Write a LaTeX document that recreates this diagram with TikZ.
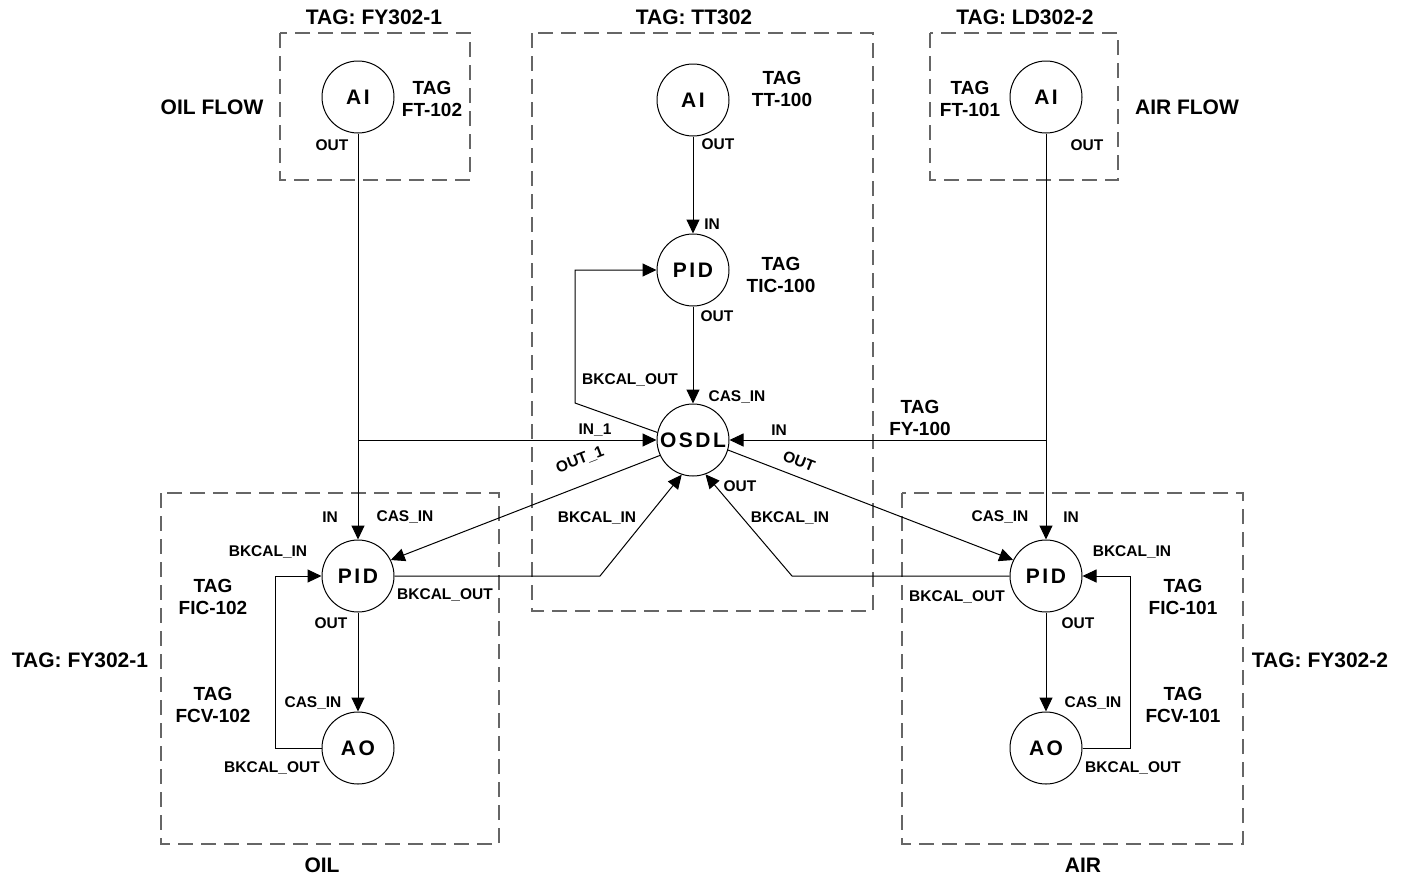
\documentclass[tikz,border=0pt]{standalone}
\usepackage{fontspec}
\setmainfont{Liberation Sans}
\usetikzlibrary{arrows.meta}
\begin{document}
\begin{tikzpicture}[x=0.5pt,y=-0.5pt,
  blk/.style={circle,draw,line width=0.5pt,minimum size=36pt,inner sep=0pt,
    font=\fontsize{10.5}{12}\selectfont\bfseries\addfontfeature{LetterSpace=12}},
  hdr/.style={font=\fontsize{10.5}{12}\selectfont\bfseries,inner sep=0pt},
  tag/.style={font=\fontsize{9.5}{11}\selectfont\bfseries,align=center,inner sep=0pt},
  lbl/.style={font=\fontsize{7.75}{9}\selectfont\bfseries,inner sep=0pt},
  grp/.style={draw=black!60,dash pattern=on 7.5pt off 4pt,line width=0.6pt},
  wire/.style={line width=0.5pt},
  arr/.style={wire,-{Triangle[length=7pt,width=6.5pt]}}]
\useasboundingbox (0,0) rectangle (1414,879);

% group boxes
\draw[grp] (280,33) rectangle (470,180);
\draw[grp] (532,33) rectangle (873,611);
\draw[grp] (930,33) rectangle (1118,180);
\draw[grp] (161,493) rectangle (499,844);
\draw[grp] (902,493) rectangle (1243,844);

% group headers
\node[hdr] (hFY1) at (374,17) {TAG: FY302-1};
\node[hdr] (hTT) at (694,17) {TAG: TT302};
\node[hdr] (hLD) at (1025,17) {TAG: LD302-2};
\node[hdr] (hOILF) at (212,107) {OIL FLOW};
\node[hdr] (hAIRF) at (1187,107) {AIR FLOW};
\node[hdr] (hFYL) at (80,660) {TAG: FY302-1};
\node[hdr] (hFYR) at (1320,660) {TAG: FY302-2};
\node[hdr] (hOIL) at (322,865) {OIL};
\node[hdr] (hAIR) at (1083,865) {AIR};

% blocks
\node[blk] (oilAI) at (358,97) {AI};
\node[blk] (ttAI) at (693,100) {AI};
\node[blk] (ttPID) at (693,270) {PID};
\node[blk] (osdl) at (693,440) {OSDL};
\node[blk] (airAI) at (1046,97) {AI};
\node[blk] (oilPID) at (358,576) {PID};
\node[blk] (oilAO) at (358,748) {AO};
\node[blk] (airPID) at (1046,576) {PID};
\node[blk] (airAO) at (1046,748) {AO};

% tag labels
\node[tag] (tFT102) at (432,99) {TAG\\FT-102};
\node[tag] (tTT100) at (782,89) {TAG\\TT-100};
\node[tag] (tTIC100) at (781,275) {TAG\\TIC-100};
\node[tag] (tFT101) at (970,99) {TAG\\FT-101};
\node[tag] (tFY100) at (920,418) {TAG\\FY-100};
\node[tag] (tFIC102) at (213,597) {TAG\\FIC-102};
\node[tag] (tFCV102) at (213,705) {TAG\\FCV-102};
\node[tag] (tFIC101) at (1183,597) {TAG\\FIC-101};
\node[tag] (tFCV101) at (1183,705) {TAG\\FCV-101};

% coordinates
\coordinate (j1) at (358,440);
\coordinate (j2) at (1046,440);
\coordinate (c1) at (575,403);
\coordinate (c2) at (575,270);
\coordinate (c3) at (600,576);
\coordinate (c4) at (792,576);
\coordinate (c5) at (275,748);
\coordinate (c6) at (275,576);
\coordinate (c7) at (1130,748);
\coordinate (c8) at (1130,576);

% connectors
\draw[arr] (oilAI.south) -- (oilPID.north);
\draw[arr] (j1) -- (osdl.west);
\draw[arr] (ttAI.south) -- (ttPID.north);
\draw[arr] (ttPID.south) -- (osdl.north);
\draw[arr] (osdl.168) -- (c1) -- (c2) -- (ttPID.west);
\draw[arr] (airAI.south) -- (airPID.north);
\draw[arr] (j2) -- (osdl.east);
\draw[arr] (osdl.205) -- (oilPID.26);
\draw[arr] (osdl.344) -- (airPID.154);
\draw[arr] (oilPID.east) -- (c3) -- (osdl.252);
\draw[arr] (airPID.west) -- (c4) -- (osdl.290);
\draw[arr] (oilPID.south) -- (oilAO.north);
\draw[arr] (oilAO.west) -- (c5) -- (c6) -- (oilPID.west);
\draw[arr] (airPID.south) -- (airAO.north);
\draw[arr] (airAO.east) -- (c7) -- (c8) -- (airPID.east);

% port labels
\node[lbl] (l1) at (332,145) {OUT};
\node[lbl] (l2) at (718,144) {OUT};
\node[lbl] (l3) at (1087,145) {OUT};
\node[lbl] (l4) at (712,224) {IN};
\node[lbl] (l5) at (717,316) {OUT};
\node[lbl] (l6) at (630,380) {BKCAL\_OUT};
\node[lbl] (l7) at (737,397) {CAS\_IN};
\node[lbl] (l8) at (595,430) {IN\_1};
\node[lbl] (l9) at (779,430) {IN};
\node[lbl,rotate=21] (l10) at (580,460) {OUT\_1};
\node[lbl,rotate=-21] (l11) at (799,461) {OUT};
\node[lbl] (l12) at (740,486) {OUT};
\node[lbl] (l13) at (597,518) {BKCAL\_IN};
\node[lbl] (l14) at (790,518) {BKCAL\_IN};
% oil PID / AO
\node[lbl] (l15) at (330,517) {IN};
\node[lbl] (l16) at (405,517) {CAS\_IN};
\node[lbl] (l17) at (268,552) {BKCAL\_IN};
\node[lbl] (l18) at (445,595) {BKCAL\_OUT};
\node[lbl] (l19) at (331,623) {OUT};
\node[lbl] (l20) at (313,703) {CAS\_IN};
\node[lbl] (l21) at (272,768) {BKCAL\_OUT};
% air PID / AO
\node[lbl] (l22) at (1000,517) {CAS\_IN};
\node[lbl] (l23) at (1071,517) {IN};
\node[lbl] (l24) at (1132,552) {BKCAL\_IN};
\node[lbl] (l25) at (957,597) {BKCAL\_OUT};
\node[lbl] (l26) at (1078,623) {OUT};
\node[lbl] (l27) at (1093,703) {CAS\_IN};
\node[lbl] (l28) at (1133,768) {BKCAL\_OUT};
\end{tikzpicture}
\end{document}
